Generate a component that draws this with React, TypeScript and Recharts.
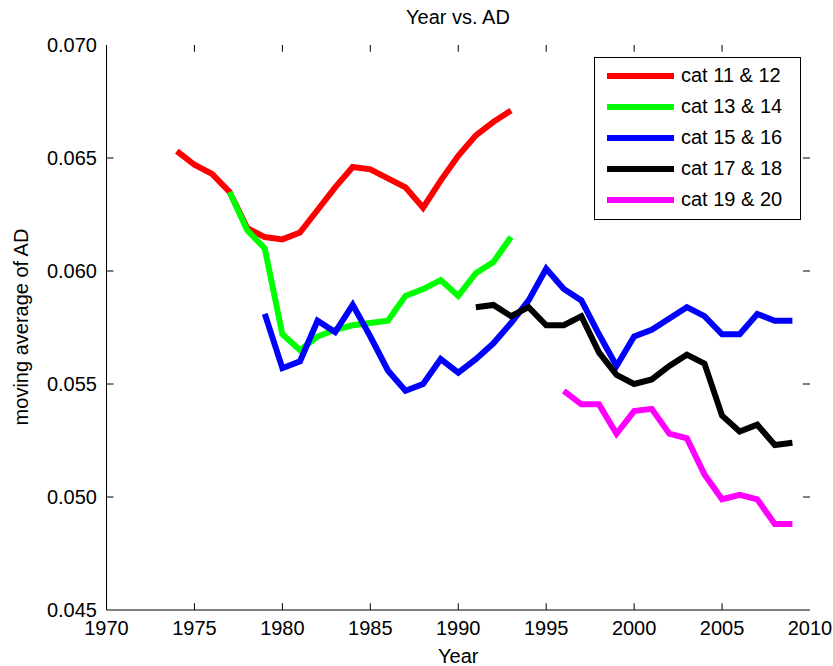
import React from "react";
import { LineChart, Line, XAxis, YAxis, Legend, Label, ReferenceLine } from "recharts";

const FONT = "'Liberation Sans', Arial, Helvetica, sans-serif";

const YEAR_TICKS = [1970, 1975, 1980, 1985, 1990, 1995, 2000, 2005, 2010];
const AD_TICKS = [0.045, 0.05, 0.055, 0.06, 0.065, 0.07];

const cat11Years = [
  1974, 1975, 1976, 1977, 1978, 1979, 1980, 1981, 1982, 1983, 1984, 1985,
  1986, 1987, 1988, 1989, 1990, 1991, 1992, 1993,
];
const cat11Values = [
  0.0653, 0.0647, 0.0643, 0.0635, 0.0619, 0.0615, 0.0614, 0.0617, 0.0627,
  0.0637, 0.0646, 0.0645, 0.0641, 0.0637, 0.0628, 0.064, 0.0651, 0.066,
  0.0666, 0.0671,
];

const cat13Years = [
  1977, 1978, 1979, 1980, 1981, 1982, 1983, 1984, 1985, 1986, 1987, 1988,
  1989, 1990, 1991, 1992, 1993,
];
const cat13Values = [
  0.0635, 0.0618, 0.061, 0.0572, 0.0565, 0.0571, 0.0574, 0.0576, 0.0577,
  0.0578, 0.0589, 0.0592, 0.0596, 0.0589, 0.0599, 0.0604, 0.0615,
];

const cat15Years = [
  1979, 1980, 1981, 1982, 1983, 1984, 1985, 1986, 1987, 1988, 1989, 1990,
  1991, 1992, 1993, 1994, 1995, 1996, 1997, 1998, 1999, 2000, 2001, 2002,
  2003, 2004, 2005, 2006, 2007, 2008, 2009,
];
const cat15Values = [
  0.0581, 0.0557, 0.056, 0.0578, 0.0573, 0.0585, 0.0571, 0.0556, 0.0547,
  0.055, 0.0561, 0.0555, 0.0561, 0.0568, 0.0577, 0.0587, 0.0601, 0.0592,
  0.0587, 0.0572, 0.0558, 0.0571, 0.0574, 0.0579, 0.0584, 0.058, 0.0572,
  0.0572, 0.0581, 0.0578, 0.0578,
];

const cat17Years = [
  1991, 1992, 1993, 1994, 1995, 1996, 1997, 1998, 1999, 2000, 2001, 2002,
  2003, 2004, 2005, 2006, 2007, 2008, 2009,
];
const cat17Values = [
  0.0584, 0.0585, 0.058, 0.0584, 0.0576, 0.0576, 0.058, 0.0564, 0.0554,
  0.055, 0.0552, 0.0558, 0.0563, 0.0559, 0.0536, 0.0529, 0.0532, 0.0523,
  0.0524,
];

const cat19Years = [
  1996, 1997, 1998, 1999, 2000, 2001, 2002, 2003, 2004, 2005, 2006, 2007,
  2008, 2009,
];
const cat19Values = [
  0.0547, 0.0541, 0.0541, 0.0528, 0.0538, 0.0539, 0.0528, 0.0526, 0.051,
  0.0499, 0.0501, 0.0499, 0.0488, 0.0488,
];

const SERIES = [
  { key: "c11", name: "cat 11 & 12", color: "#ff0000", years: cat11Years, values: cat11Values },
  { key: "c13", name: "cat 13 & 14", color: "#00ff00", years: cat13Years, values: cat13Values },
  { key: "c15", name: "cat 15 & 16", color: "#0000ff", years: cat15Years, values: cat15Values },
  { key: "c17", name: "cat 17 & 18", color: "#000000", years: cat17Years, values: cat17Values },
  { key: "c19", name: "cat 19 & 20", color: "#ff00ff", years: cat19Years, values: cat19Values },
];

// merge the series into one table keyed by year
const rowsByYear: Record<number, any> = {};
SERIES.forEach((s) => {
  s.years.forEach((y, i) => {
    if (!rowsByYear[y]) rowsByYear[y] = { year: y };
    rowsByYear[y][s.key] = s.values[i];
  });
});
const data = Object.values(rowsByYear).sort((a: any, b: any) => a.year - b.year);

const X_MIN = 1970;
const X_MAX = 2010;
const Y_MIN = 0.045;
const Y_MAX = 0.07;
// inward tick length in data units (about 7px each way)
const TICK_DX = 0.4;
const TICK_DY = 0.0003;

function LegendBox({ payload }: any) {
  return (
    <div
      style={{
        width: 205,
        height: 159,
        border: "1px solid #000",
        background: "#fff",
        paddingTop: 2,
        boxSizing: "content-box",
      }}
    >
      {(payload || []).map((p: any) => (
        <div key={p.value} style={{ height: 31, display: "flex", alignItems: "center" }}>
          <div style={{ marginLeft: 12, width: 67, height: 6, background: p.color }} />
          <span
            style={{
              marginLeft: 7,
              fontFamily: FONT,
              fontSize: 20,
              color: "#000",
              whiteSpace: "nowrap",
            }}
          >
            {p.value}
          </span>
        </div>
      ))}
    </div>
  );
}

const tickStyle = { fill: "#000", fontSize: 20, fontFamily: FONT };

export default function App() {
  return (
    <div style={{ position: "absolute", left: 0, top: 0, width: 833, height: 666, background: "#fff" }}>
      <div
        style={{
          position: "absolute",
          left: 106,
          width: 704,
          top: 6,
          textAlign: "center",
          fontFamily: FONT,
          fontSize: 20,
          lineHeight: "23px",
          color: "#000",
        }}
      >
        Year vs. AD
      </div>
      <LineChart
        width={833}
        height={666}
        data={data}
        margin={{ top: 45, right: 23, bottom: 0, left: 0 }}
      >
        <XAxis
          dataKey="year"
          type="number"
          domain={[X_MIN, X_MAX]}
          ticks={YEAR_TICKS}
          allowDataOverflow
          height={56}
          stroke="#000"
          tickLine={false}
          tickSize={0}
          tickMargin={11}
          tick={tickStyle}
        >
          <Label
            value="Year"
            position="insideBottom"
            offset={3}
            style={{ fill: "#000", fontSize: 20, fontFamily: FONT }}
          />
        </XAxis>
        <XAxis
          xAxisId="top"
          orientation="top"
          dataKey="year"
          type="number"
          domain={[X_MIN, X_MAX]}
          ticks={YEAR_TICKS}
          height={0}
          stroke="#000"
          tickLine={false}
          tick={false}
        />
        <YAxis
          type="number"
          domain={[Y_MIN, Y_MAX]}
          ticks={AD_TICKS}
          allowDataOverflow
          width={106.5}
          stroke="#000"
          tickLine={false}
          tickSize={0}
          tickMargin={9.5}
          tick={tickStyle}
          tickFormatter={(v: number) => v.toFixed(3)}
        >
          <Label
            content={() => (
              <text
                x={21}
                y={327}
                transform="rotate(-90 21 327)"
                textAnchor="middle"
                dominantBaseline="central"
                fill="#000"
                fontSize={20}
                fontFamily={FONT}
              >
                moving average of AD
              </text>
            )}
          />
        </YAxis>
        <YAxis
          yAxisId="right"
          orientation="right"
          type="number"
          domain={[Y_MIN, Y_MAX]}
          ticks={AD_TICKS}
          width={0}
          stroke="#000"
          tickLine={false}
          tick={false}
        />

        {/* inward tick marks on all four sides, matlab style */}
        {YEAR_TICKS.slice(1, -1).map((t) => (
          <ReferenceLine
            key={`xb-${t}`}
            segment={[{ x: t, y: Y_MIN }, { x: t, y: Y_MIN + TICK_DY }]}
            stroke="#000"
            strokeWidth={1}
          />
        ))}
        {YEAR_TICKS.slice(1, -1).map((t) => (
          <ReferenceLine
            key={`xt-${t}`}
            segment={[{ x: t, y: Y_MAX }, { x: t, y: Y_MAX - TICK_DY }]}
            stroke="#000"
            strokeWidth={1}
          />
        ))}
        {AD_TICKS.slice(1, -1).map((t) => (
          <ReferenceLine
            key={`yl-${t}`}
            segment={[{ x: X_MIN, y: t }, { x: X_MIN + TICK_DX, y: t }]}
            stroke="#000"
            strokeWidth={1}
          />
        ))}
        {AD_TICKS.slice(1, -1).map((t) => (
          <ReferenceLine
            key={`yr-${t}`}
            segment={[{ x: X_MAX, y: t }, { x: X_MAX - TICK_DX, y: t }]}
            stroke="#000"
            strokeWidth={1}
          />
        ))}

        <Legend
          layout="vertical"
          align="center"
          verticalAlign="middle"
          content={<LegendBox />}
          wrapperStyle={{ left: 594, top: 57, width: 207, height: 162 }}
        />
        {SERIES.map((s) => (
          <Line
            key={s.key}
            dataKey={s.key}
            name={s.name}
            type="linear"
            stroke={s.color}
            strokeWidth={6}
            dot={false}
            activeDot={false}
            isAnimationActive={false}
          />
        ))}
      </LineChart>
    </div>
  );
}
